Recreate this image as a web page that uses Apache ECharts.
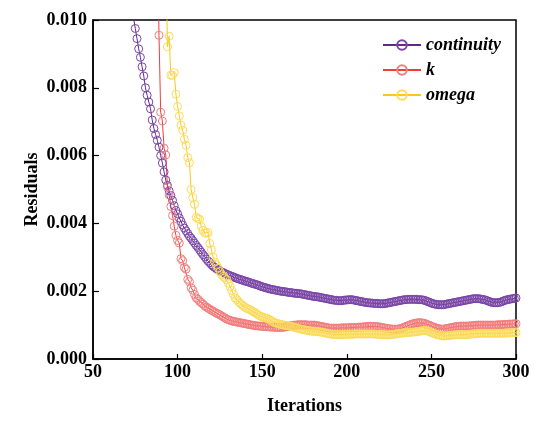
<!DOCTYPE html>
<html>
<head>
<meta charset="utf-8">
<script src="https://cdn.jsdelivr.net/npm/echarts@6/dist/echarts.min.js"></script>
<style>
  html, body { margin: 0; padding: 0; background: #fff; }
  #chart { width: 550px; height: 424px; }
</style>
</head>
<body>
<div id="chart"></div>
<script>
// residual history, one value per iteration starting at firstIter
var firstIter = 70;

var continuity = [
  0.0125, 0.0118, 0.0111, 0.0105, 0.01005, 0.00975, 0.00945, 0.00915, 0.00890, 0.00862,
  0.00835, 0.00800, 0.00778, 0.00758, 0.00738, 0.00705, 0.00680, 0.00662, 0.00645, 0.00625,
  0.00600, 0.00578, 0.00552, 0.00528, 0.00512, 0.00496, 0.00482, 0.00468, 0.00452, 0.00438,
  0.00428, 0.00416, 0.00406, 0.00395, 0.00386, 0.00378, 0.00370, 0.00362, 0.00356, 0.00349,
  0.00342, 0.00335, 0.00329, 0.00322, 0.00315, 0.00308, 0.00302, 0.00295, 0.00289, 0.00284,
  0.00278, 0.00273, 0.00270, 0.00266, 0.00263, 0.00260, 0.00257, 0.00255, 0.00252, 0.00250,
  0.00248, 0.00246, 0.00244, 0.00242, 0.00240, 0.00238, 0.00236, 0.00235, 0.00233, 0.00231,
  0.00230, 0.00228, 0.00227, 0.00225, 0.00223, 0.00222, 0.00220, 0.00219, 0.00217, 0.00215,
  0.00213, 0.00212, 0.00210, 0.00209, 0.00207, 0.00206, 0.00205, 0.00204, 0.00203, 0.00202,
  0.00201, 0.00200, 0.00199, 0.00199, 0.00198, 0.00197, 0.00196, 0.00196, 0.00195, 0.00194,
  0.00194, 0.00193, 0.00193, 0.00192, 0.00191, 0.00190, 0.00189, 0.00188, 0.00187, 0.00186,
  0.00185, 0.00184, 0.00184, 0.00183, 0.00182, 0.00181, 0.00180, 0.00179, 0.00178, 0.00177,
  0.00176, 0.00175, 0.00174, 0.00173, 0.00173, 0.00172, 0.00172, 0.00172, 0.00173, 0.00174,
  0.00174, 0.00175, 0.00175, 0.00175, 0.00174, 0.00173, 0.00172, 0.00171, 0.00170, 0.00169,
  0.00168, 0.00167, 0.00166, 0.00166, 0.00165, 0.00165, 0.00164, 0.00164, 0.00164, 0.00163,
  0.00163, 0.00163, 0.00163, 0.00164, 0.00165, 0.00166, 0.00167, 0.00168, 0.00169, 0.00170,
  0.00171, 0.00172, 0.00173, 0.00174, 0.00175, 0.00175, 0.00176, 0.00176, 0.00176, 0.00176,
  0.00176, 0.00176, 0.00175, 0.00175, 0.00175, 0.00174, 0.00173, 0.00171, 0.00169, 0.00167,
  0.00165, 0.00163, 0.00162, 0.00161, 0.00160, 0.00160, 0.00160, 0.00160, 0.00161, 0.00162,
  0.00163, 0.00164, 0.00165, 0.00166, 0.00167, 0.00168, 0.00169, 0.00170, 0.00171, 0.00172,
  0.00173, 0.00174, 0.00175, 0.00176, 0.00177, 0.00178, 0.00178, 0.00178, 0.00178, 0.00177,
  0.00176, 0.00175, 0.00174, 0.00172, 0.00170, 0.00168, 0.00167, 0.00166, 0.00166, 0.00166,
  0.00167, 0.00168, 0.00170, 0.00172, 0.00174, 0.00175, 0.00176, 0.00177, 0.00178, 0.00179,
  0.00180
];

var k = [
  0.0260, 0.0255, 0.0250, 0.0245, 0.0240, 0.0235, 0.0230, 0.0225, 0.0220, 0.0215,
  0.0210, 0.0205, 0.0200, 0.0190, 0.0180, 0.0170, 0.0160, 0.0150, 0.0130, 0.00955,
  0.00728, 0.00702, 0.00622, 0.00602, 0.00508, 0.00484, 0.00450, 0.00423, 0.00392, 0.00365,
  0.00350, 0.00342, 0.00296, 0.00290, 0.00270, 0.00265, 0.00235, 0.00228, 0.00210, 0.00203,
  0.00190, 0.00180, 0.00176, 0.00170, 0.00166, 0.00162, 0.00157, 0.00153, 0.00150, 0.00147,
  0.00144, 0.00141, 0.00138, 0.00135, 0.00133, 0.00130, 0.00127, 0.00124, 0.00121, 0.00118,
  0.00116, 0.00114, 0.00112, 0.00111, 0.00110, 0.00109, 0.00108, 0.00107, 0.00106, 0.00105,
  0.00104, 0.00103, 0.00102, 0.00101, 0.00100, 0.00099, 0.00098, 0.00098, 0.00097, 0.00097,
  0.00096, 0.00096, 0.00095, 0.00095, 0.00095, 0.00094, 0.00094, 0.00094, 0.00093, 0.00093,
  0.00093, 0.00093, 0.00093, 0.00094, 0.00095, 0.00096, 0.00097, 0.00098, 0.00099, 0.00100,
  0.00100, 0.00101, 0.00101, 0.00101, 0.00101, 0.00101, 0.00101, 0.00100, 0.00100, 0.00100,
  0.00100, 0.00100, 0.00099, 0.00098, 0.00097, 0.00096, 0.00095, 0.00094, 0.00093, 0.00092,
  0.00091, 0.00091, 0.00091, 0.00091, 0.00091, 0.00091, 0.00091, 0.00092, 0.00092, 0.00092,
  0.00092, 0.00092, 0.00093, 0.00093, 0.00093, 0.00093, 0.00093, 0.00094, 0.00094, 0.00094,
  0.00095, 0.00095, 0.00096, 0.00096, 0.00096, 0.00096, 0.00096, 0.00096, 0.00095, 0.00095,
  0.00094, 0.00093, 0.00092, 0.00091, 0.00090, 0.00089, 0.00089, 0.00088, 0.00088, 0.00088,
  0.00088, 0.00089, 0.00090, 0.00092, 0.00094, 0.00096, 0.00098, 0.00100, 0.00102, 0.00104,
  0.00105, 0.00106, 0.00107, 0.00107, 0.00107, 0.00106, 0.00105, 0.00103, 0.00101, 0.00099,
  0.00097, 0.00095, 0.00093, 0.00091, 0.00090, 0.00089, 0.00088, 0.00088, 0.00089, 0.00090,
  0.00091, 0.00092, 0.00093, 0.00094, 0.00095, 0.00096, 0.00096, 0.00097, 0.00097, 0.00097,
  0.00097, 0.00097, 0.00097, 0.00098, 0.00098, 0.00099, 0.00099, 0.00100, 0.00100, 0.00100,
  0.00100, 0.00100, 0.00100, 0.00100, 0.00100, 0.00100, 0.00100, 0.00100, 0.00100, 0.00101,
  0.00101, 0.00101, 0.00101, 0.00102, 0.00102, 0.00102, 0.00103, 0.00103, 0.00103, 0.00104,
  0.00104
];

var omega = [
  0.0320, 0.0310, 0.0300, 0.0290, 0.0280, 0.0270, 0.0260, 0.0250, 0.0240, 0.0230,
  0.0220, 0.0210, 0.0200, 0.0190, 0.0180, 0.0170, 0.0160, 0.0150, 0.0145, 0.0140,
  0.0135, 0.0130, 0.0125, 0.0120, 0.00921, 0.00952, 0.00837, 0.00837, 0.00845, 0.00781,
  0.00745, 0.00717, 0.00690, 0.00675, 0.00648, 0.00630, 0.00594, 0.00579, 0.00500, 0.00476,
  0.00456, 0.00418, 0.00414, 0.00412, 0.00391, 0.00380, 0.00372, 0.00371, 0.00373, 0.00341,
  0.00322, 0.00300, 0.00286, 0.00277, 0.00268, 0.00258, 0.00249, 0.00244, 0.00239, 0.00234,
  0.00224, 0.00214, 0.00202, 0.00191, 0.00180, 0.00175, 0.00169, 0.00164, 0.00160, 0.00156,
  0.00152, 0.00149, 0.00147, 0.00145, 0.00142, 0.00139, 0.00136, 0.00132, 0.00129, 0.00126,
  0.00124, 0.00122, 0.00121, 0.00120, 0.00117, 0.00114, 0.00111, 0.00108, 0.00106, 0.00105,
  0.00103, 0.00102, 0.00101, 0.00100, 0.00099, 0.00098, 0.00097, 0.00096, 0.00095, 0.00094,
  0.00092, 0.00091, 0.00089, 0.00088, 0.00087, 0.00086, 0.00085, 0.00084, 0.00083, 0.00082,
  0.00082, 0.00081, 0.00081, 0.00080, 0.00080, 0.00079, 0.00078, 0.00077, 0.00076, 0.00075,
  0.00074, 0.00073, 0.00072, 0.00072, 0.00072, 0.00072, 0.00072, 0.00072, 0.00072, 0.00073,
  0.00073, 0.00073, 0.00073, 0.00073, 0.00073, 0.00074, 0.00074, 0.00074, 0.00074, 0.00074,
  0.00074, 0.00074, 0.00074, 0.00074, 0.00074, 0.00074, 0.00074, 0.00073, 0.00073, 0.00073,
  0.00073, 0.00072, 0.00072, 0.00071, 0.00071, 0.00071, 0.00072, 0.00072, 0.00073, 0.00074,
  0.00075, 0.00076, 0.00076, 0.00077, 0.00077, 0.00078, 0.00078, 0.00079, 0.00079, 0.00079,
  0.00080, 0.00080, 0.00081, 0.00082, 0.00083, 0.00084, 0.00085, 0.00084, 0.00082, 0.00080,
  0.00078, 0.00076, 0.00074, 0.00072, 0.00071, 0.00070, 0.00069, 0.00068, 0.00068, 0.00069,
  0.00069, 0.00070, 0.00070, 0.00071, 0.00071, 0.00072, 0.00072, 0.00072, 0.00072, 0.00072,
  0.00072, 0.00072, 0.00073, 0.00073, 0.00074, 0.00074, 0.00075, 0.00075, 0.00076, 0.00076,
  0.00076, 0.00076, 0.00076, 0.00076, 0.00076, 0.00076, 0.00076, 0.00076, 0.00076, 0.00076,
  0.00076, 0.00076, 0.00076, 0.00076, 0.00077, 0.00077, 0.00077, 0.00077, 0.00078, 0.00078,
  0.00078
];

var seriesNames = ['continuity', 'k', 'omega'];
var lineColors = ['#5e2a8c', '#f03c3c', '#f7c81e'];
var markColors = ['#7a45a6', '#f27d7d', '#fbdc5a'];

function pairs(values) {
    return values.map(function (v, i) { return [firstIter + i, v]; });
}

var font = '"Liberation Serif", "Times New Roman", serif';
var myChart = echarts.init(document.getElementById('chart'));

var series = [continuity, k, omega].map(function (values, i) {
    return {
        name: seriesNames[i],
        type: 'line',
        data: pairs(values),
        symbol: 'circle',
        symbolSize: 8,
        clip: true,
        lineStyle: { color: lineColors[i], width: 1 },
        itemStyle: { color: 'rgba(255,255,255,0)', borderColor: markColors[i], borderWidth: 1 },
        emphasis: { disabled: true }
    };
});

var option = {
    animation: false,
    backgroundColor: '#fff',
    grid: {
        left: 93, right: 34, top: 20, bottom: 65,
        show: true, borderColor: '#000', borderWidth: 1.5
    },
    legend: {
        data: seriesNames,
        orient: 'vertical',
        left: 377, top: 30,
        itemWidth: 38, itemHeight: 12, itemGap: 5,
        textStyle: { fontFamily: font, fontSize: 18, fontWeight: 'bold', fontStyle: 'italic', color: '#000', lineHeight: 20 }
    },
    xAxis: {
        type: 'value',
        min: 50, max: 300, interval: 50,
        name: 'Iterations',
        nameLocation: 'middle',
        nameGap: 38,
        nameMoveOverlap: false,
        nameTextStyle: { fontFamily: font, fontSize: 18, fontWeight: 'bold', color: '#000' },
        axisLine: { show: true, lineStyle: { color: '#000', width: 1.5 } },
        axisTick: { show: true, inside: true, length: 5, lineStyle: { color: '#000', width: 1.2 } },
        axisLabel: { fontFamily: font, fontSize: 18, fontWeight: 'bold', color: '#000', margin: 4 },
        splitLine: { show: false }
    },
    yAxis: {
        type: 'value',
        min: 0, max: 0.01, interval: 0.002,
        name: 'Residuals',
        nameLocation: 'middle',
        nameGap: 52,
        nameMoveOverlap: false,
        nameTextStyle: { fontFamily: font, fontSize: 18, fontWeight: 'bold', color: '#000' },
        axisLine: { show: true, lineStyle: { color: '#000', width: 1.5 } },
        axisTick: { show: true, inside: true, length: 6, lineStyle: { color: '#000', width: 1.2 } },
        axisLabel: {
            fontFamily: font, fontSize: 18, fontWeight: 'bold', color: '#000', margin: 6,
            formatter: function (v) { return v.toFixed(3); }
        },
        splitLine: { show: false }
    },
    series: series
};

myChart.setOption(option);
</script>
</body>
</html>
